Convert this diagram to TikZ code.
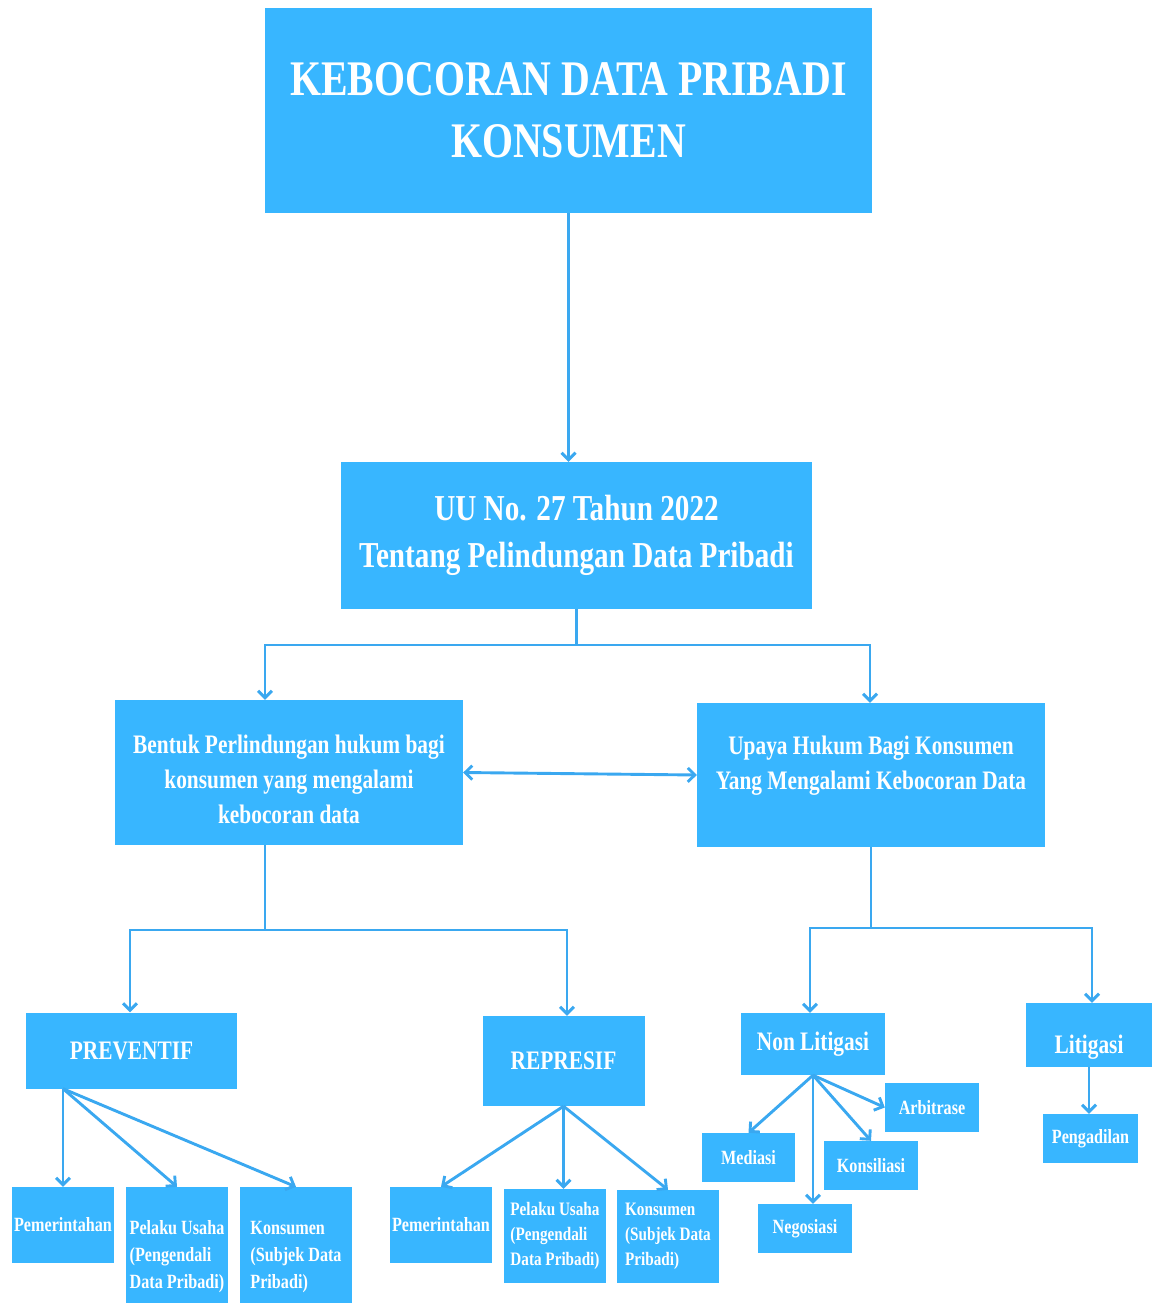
\documentclass[tikz,border=0pt]{standalone}
\usepackage{fontspec}
\setmainfont{Liberation Serif}[FakeStretch=0.8]
\usetikzlibrary{arrows.meta}

\definecolor{boxblue}{RGB}{56,182,255}
\definecolor{lineblue}{RGB}{58,168,240}

\newcommand\kbtitle{\bfseries\fontsize{49.8}{62}\selectfont}
\newcommand\kbuu{\bfseries\fontsize{36.5}{47}\selectfont}
\newcommand\kbmid{\bfseries\fontsize{26.7}{35}\selectfont}
\newcommand\kbsmall{\bfseries\fontsize{20.2}{27}\selectfont}
\newcommand\kbtiny{\bfseries\fontsize{19}{25}\selectfont}

\begin{document}
\begin{tikzpicture}[x=1pt,y=-1pt]
        \tikzstyle{box}=[fill=boxblue,text=white,font=\kbmid,inner sep=0pt,align=center]
        \tikzstyle{leftbox}=[box,align=left]
        \tikzstyle{line}=[draw=lineblue,line width=2.9pt]
        \tikzstyle{arr}=[line,-{Straight Barb[length=7pt,width=14pt]}]
        \tikzstyle{arrboth}=[line,{Straight Barb[length=7pt,width=14pt]}-{Straight Barb[length=7pt,width=14pt]}]

        \useasboundingbox (0,0) rectangle (1152,1303);

        \node[box,font=\kbtitle,minimum width=607pt,minimum height=205pt] (title) at (568.5,110.5)
            {KEBOCORAN DATA PRIBADI\\KONSUMEN};
        \node[box,font=\kbuu,minimum width=471pt,minimum height=147pt] (uu) at (576.5,535.5)
            {UU No. 27 Tahun 2022\\Tentang Pelindungan Data Pribadi};

        \node[box,minimum width=348pt,minimum height=145pt] (bentuk) at (289,772.5)
            {\rule{0pt}{33pt}Bentuk Perlindungan hukum bagi\\konsumen yang mengalami\\kebocoran data};
        \node[box,minimum width=348pt,minimum height=144pt] (upaya) at (871,775)
            {Upaya Hukum Bagi Konsumen\\Yang Mengalami Kebocoran Data\rule[-25pt]{0pt}{25pt}};

        \node[box,minimum width=211pt,minimum height=76pt] (prev) at (131.5,1050.5) {PREVENTIF};
        \node[box,minimum width=162pt,minimum height=90pt] (rep) at (563.5,1061) {REPRESIF};
        \node[box,minimum width=144pt,minimum height=62pt] (nonlit) at (813,1044) {Non Litigasi};
        \node[box,minimum width=126pt,minimum height=64pt] (lit) at (1089,1035) {\rule{0pt}{42pt}Litigasi};

        % preventif
        \node[box,font=\kbsmall,minimum width=102pt,minimum height=76pt] (pem1) at (63,1225) {Pemerintahan};
        \node[leftbox,font=\kbsmall,minimum width=102pt,minimum height=140pt] (pel1) at (177,1257)
            {Pelaku Usaha\\(Pengendali\\Data Pribadi)};
        \node[leftbox,font=\kbsmall,minimum width=112pt,minimum height=140pt] (kon1) at (296,1257)
            {Konsumen\\(Subjek Data\\Pribadi)};

        % represif
        \node[box,font=\kbsmall,minimum width=102pt,minimum height=76pt] (pem2) at (441,1225) {Pemerintahan};
        \node[leftbox,font=\kbtiny,minimum width=102pt,minimum height=94pt] (pel2) at (555,1236)
            {Pelaku Usaha\\(Pengendali\\Data Pribadi)};
        \node[leftbox,font=\kbtiny,minimum width=102pt,minimum height=93pt] (kon2) at (668,1236.5)
            {Konsumen\\(Subjek Data\\Pribadi)};

        % non litigasi / litigasi
        \node[box,font=\kbsmall,minimum width=94pt,minimum height=49pt] (arb) at (932,1107.5) {Arbitrase};
        \node[box,font=\kbsmall,minimum width=93pt,minimum height=49pt] (med) at (748.5,1157.5) {Mediasi};
        \node[box,font=\kbsmall,minimum width=94pt,minimum height=49pt] (kons) at (871,1165.5) {Konsiliasi};
        \node[box,font=\kbsmall,minimum width=94pt,minimum height=49pt] (neg) at (805,1228.5) {Negosiasi};
        \node[box,font=\kbsmall,minimum width=95pt,minimum height=49pt] (peng) at (1090.5,1138.5) {Pengadilan};

        % connectors
        \coordinate (uuL) at (265,645);
        \coordinate (uuR) at (870,645);
        \coordinate (bL) at (130,930);
        \coordinate (bR) at (567,930);
        \coordinate (uL) at (810,928);
        \coordinate (uR) at (1092,928);

        \draw[arr] (title.south) -- (title.south |- uu.north);
        \draw[arr] (uu.south) |- (uuL) -- (uuL |- bentuk.north);
        \draw[arr] (uu.south) |- (uuR) -- (uuR |- upaya.north);
        \draw[arrboth] (bentuk.east) -- (upaya.west);

        \draw[arr] (uuL |- bentuk.south) |- (bL) -- (bL |- prev.north);
        \draw[arr] (uuL |- bentuk.south) |- (bR) -- (bR |- rep.north);
        \draw[arr] (upaya.south) |- (uL) -- (uL |- nonlit.north);
        \draw[arr] (upaya.south) |- (uR) -- (uR |- lit.north);

        \foreach \n in {pem1,pel1,kon1}
            \draw[arr] (prev.south -| pem1) -- (\n.north);
        \foreach \n in {pem2,kon2}
            \draw[arr] (rep.south) -- (\n.north);
        \draw[arr] (rep.south) -- (rep.south |- pel2.north);

        \foreach \n in {med,kons}
            \draw[arr] (nonlit.south) -- (\n.north);
        \draw[arr] (nonlit.south) -- (nonlit.south |- neg.north);
        \draw[arr] (nonlit.south) -- (arb.west);
        \draw[arr] (lit.south) -- (lit.south |- peng.north);
\end{tikzpicture}
\end{document}
